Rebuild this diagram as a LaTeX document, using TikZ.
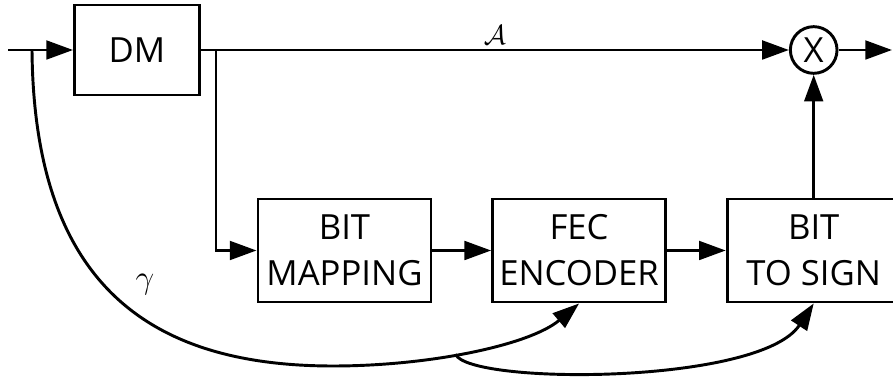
\documentclass[tikz,border=0pt]{standalone}
\usepackage{fontspec}
\setmainfont{Open Sans}
\usetikzlibrary{positioning,arrows.meta,calc}

\begin{document}
\begin{tikzpicture}[
			x=0.75pt,y=-0.75pt,
			node distance=44pt,
			line width=2.2pt,
			block/.style={draw,minimum width=129.75pt,minimum height=77.25pt,align=center,inner sep=0pt,font=\fontsize{26}{34.5}\selectfont},
			mult/.style={draw,circle,minimum size=35pt,inner sep=0pt,font=\fontsize{26}{30}\selectfont},
			>={Triangle[length=20pt,width=14pt]}
			]
			
			\useasboundingbox (0,0) rectangle (893,377);
			
			\node[block,minimum width=93.75pt,minimum height=67.5pt] (dm) at (137,50) {DM};
			
			\node[block] (map) at (344.5,250.5) {BIT\\MAPPING};
			
			\node[block,right=of map] (fec) {FEC\\ENCODER};
			
			\node[block,right=of fec] (sign) {BIT\\TO SIGN};
			
			\node[mult] (x) at (sign |- dm) {X};
			
			\coordinate (in) at (8,50);
			\coordinate (out) at (892,50);
			\coordinate (split) at (32,50);
			\coordinate (tap) at (216,50);
			
			\draw[->] (in)--(dm);
			\draw[->] (dm)--node[above,inner sep=3pt,font=\fontsize{22}{26}\selectfont]{$\mathcal{A}$}(x);
			\draw[->] (tap)|-(map);
			\draw[->] (map)--(fec);
			\draw[->] (fec)--(sign);
			\draw[->] (sign)--(x);
			\draw[->] (x)--(out);
			
			% gamma to the encoder and to the sign stage
			\draw[->] (split) .. controls (34,285) and (150,366) .. (333,366)
			.. controls (430,366) and (530,345) .. (fec.south)
			coordinate[pos=0.43] (gsplit);
			\draw[->] (gsplit) .. controls (470,385) and (760,385) .. (sign.south);
			
			\node (gamma) at (145,285) {\fontsize{26}{30}\selectfont$\gamma$};
			
		\end{tikzpicture}
\end{document}
